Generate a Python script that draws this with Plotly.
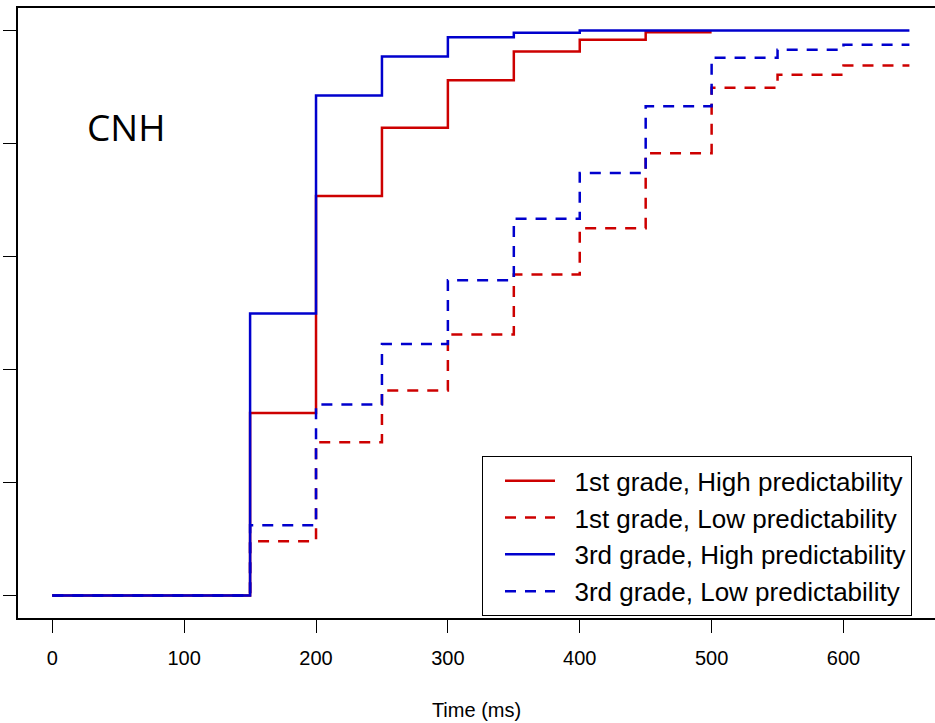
import plotly.graph_objects as go

# Time steps (ms)
time_steps = [0, 150, 200, 250, 300, 350, 400, 450, 500, 550, 600, 650]

# Cumulative proportions (step functions)
g1_high_x = [0, 150, 200, 250, 300, 350, 400, 450, 500]
g1_high_y = [0.0, 0.323, 0.707, 0.828, 0.912, 0.963, 0.984, 0.997, 0.997]

g1_low_x = time_steps
g1_low_y = [0.0, 0.096, 0.271, 0.363, 0.462, 0.568, 0.650, 0.783, 0.899, 0.922, 0.938, 0.938]

g3_high_x = time_steps
g3_high_y = [0.0, 0.499, 0.885, 0.954, 0.988, 0.996, 1.0, 1.0, 1.0, 1.0, 1.0, 1.0]

g3_low_x = time_steps
g3_low_y = [0.0, 0.124, 0.338, 0.445, 0.558, 0.667, 0.748, 0.866, 0.952, 0.966, 0.975, 0.975]

series_names = [
    "1st grade, High predictability",
    "1st grade, Low predictability",
    "3rd grade, High predictability",
    "3rd grade, Low predictability",
]

x_ticks = [0, 100, 200, 300, 400, 500, 600]
y_ticks = [0, 0.2, 0.4, 0.6, 0.8, 1.0]

RED = "#CD0000"
BLUE = "#0000CD"
DASH = "11px,9px"
LW = 2.5
PAD = "\u00a0\u00a0"

fig = go.Figure()
fig.add_trace(go.Scatter(x=g1_high_x, y=g1_high_y, mode="lines", line_shape="hv",
                         name=PAD + series_names[0], line=dict(color=RED, width=LW)))
fig.add_trace(go.Scatter(x=g1_low_x, y=g1_low_y, mode="lines", line_shape="hv",
                         name=PAD + series_names[1], line=dict(color=RED, width=LW, dash=DASH)))
fig.add_trace(go.Scatter(x=g3_high_x, y=g3_high_y, mode="lines", line_shape="hv",
                         name=PAD + series_names[2], line=dict(color=BLUE, width=LW)))
fig.add_trace(go.Scatter(x=g3_low_x, y=g3_low_y, mode="lines", line_shape="hv",
                         name=PAD + series_names[3], line=dict(color=BLUE, width=LW, dash=DASH)))

fig.add_annotation(x=56, y=0.83, xref="x", yref="y", text="CNH", showarrow=False,
                   font=dict(family="Open Sans", size=37, color="black"))

fig.update_layout(
    width=935, height=723,
    margin=dict(l=18, r=0, t=8, b=105),
    paper_bgcolor="white", plot_bgcolor="white",
    font=dict(family="Liberation Sans", color="black"),
    showlegend=True,
    legend=dict(
        x=0.506, y=0.265, xanchor="left", yanchor="top",
        bordercolor="black", borderwidth=1, bgcolor="white",
        font=dict(family="Liberation Sans", size=26, color="black"),
        itemwidth=50, indentation=17,
    ),
    xaxis=dict(
        range=[-26, 669.4], tickvals=x_ticks, ticks="outside", ticklen=13,
        tickcolor="black", showline=True, linecolor="black", linewidth=1.5,
        mirror=True, showgrid=False, zeroline=False, ticklabelstandoff=8,
        tickfont=dict(family="Liberation Sans", size=20, color="black"),
        title=dict(text="Time (ms)", font=dict(family="Liberation Sans", size=20), standoff=35),
    ),
    yaxis=dict(
        range=[-0.04, 1.04], tickvals=y_ticks, ticks="outside", ticklen=13,
        tickcolor="black", showline=True, linecolor="black", linewidth=1.5,
        mirror=False, showgrid=False, zeroline=False, showticklabels=False,
    ),
)

fig.write_html("out.html")
